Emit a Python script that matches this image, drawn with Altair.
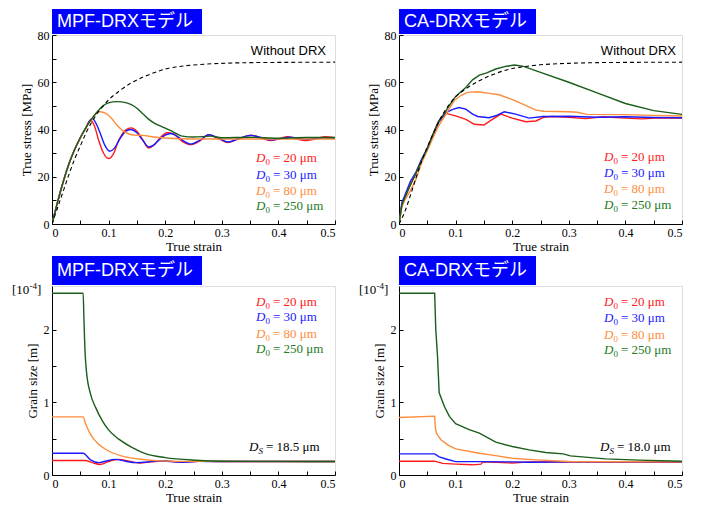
import altair as alt
import pandas as pd

# ---------------- data ----------------
SERIES = ["20", "30", "80", "250"]
LINE_COLORS = ["#ff1a1a", "#1a1aff", "#ff8c3c", "#1a5e1a"]
TEXT_COLORS = ["#ff1a1a", "#1a1aff", "#ff8c3c", "#237a23"]

# Without DRX (dashed)
MPF_DASH_X = [0, 0.01, 0.02, 0.03, 0.04, 0.05, 0.06, 0.07, 0.08, 0.09, 0.10, 0.12, 0.14, 0.16, 0.18, 0.20, 0.22, 0.25, 0.30, 0.35, 0.40, 0.50]
MPF_DASH_Y = [0, 7, 14, 21, 27.5, 33, 38.5, 43, 46.8, 49.8, 52.5, 56.5, 59.7, 62.1, 64.0, 65.6, 66.5, 67.3, 68.0, 68.3, 68.4, 68.5]
CA_DASH_X = [0, 0.01, 0.02, 0.03, 0.04, 0.05, 0.06, 0.07, 0.08, 0.09, 0.10, 0.12, 0.14, 0.16, 0.18, 0.20, 0.22, 0.25, 0.30, 0.35, 0.40, 0.50]
CA_DASH_Y = [0, 5, 12, 19.5, 26.5, 32.5, 38, 43.2, 47.5, 51, 53.8, 57.5, 60.4, 62.7, 64.5, 65.8, 66.6, 67.4, 68.0, 68.3, 68.4, 68.5]

# MPF-DRX stress
MPF_S20_X = [0, 0.01, 0.02, 0.03, 0.04, 0.05, 0.06, 0.068, 0.075, 0.083, 0.09, 0.1, 0.108, 0.118, 0.13, 0.14, 0.15, 0.16, 0.171, 0.18, 0.19, 0.204, 0.215, 0.23, 0.245, 0.26, 0.277, 0.295, 0.311, 0.33, 0.351, 0.37, 0.386, 0.4, 0.416, 0.43, 0.448, 0.465, 0.483, 0.5]
MPF_S20_Y = [0, 9.5, 18, 25.5, 31.5, 36.5, 40.8, 44, 41.5, 35, 30.5, 27.7, 29.5, 35.5, 39.8, 40.7, 39.3, 35.8, 32.2, 33.3, 36.2, 38.6, 38, 35, 33.6, 35, 37.7, 36, 34.5, 36, 37.6, 36.5, 35.3, 36, 37, 36.2, 35.3, 36, 37, 36.5]
MPF_S30_X = [0, 0.01, 0.02, 0.03, 0.04, 0.05, 0.06, 0.065, 0.071, 0.078, 0.085, 0.093, 0.102, 0.11, 0.12, 0.13, 0.139, 0.15, 0.16, 0.171, 0.18, 0.19, 0.2, 0.21, 0.222, 0.235, 0.245, 0.26, 0.277, 0.295, 0.311, 0.33, 0.351, 0.37, 0.386, 0.4, 0.42, 0.45, 0.48, 0.5]
MPF_S30_Y = [0, 9.5, 18, 25.5, 31.5, 36.5, 40.8, 43, 44.7, 42.5, 38.5, 33.5, 30.8, 32, 36, 39.2, 40, 38.6, 35.5, 32.6, 33.5, 35.8, 37.6, 38.3, 37, 34.8, 33.8, 35.3, 37.8, 36.3, 34.7, 36.2, 37.5, 36.6, 35.6, 35.9, 36.7, 35.8, 36.5, 36.3]
MPF_S80_X = [0, 0.01, 0.02, 0.03, 0.04, 0.05, 0.06, 0.07, 0.078, 0.085, 0.095, 0.105, 0.115, 0.125, 0.135, 0.145, 0.16, 0.18, 0.2, 0.25, 0.3, 0.4, 0.5]
MPF_S80_Y = [0, 9.5, 18, 25.5, 31.5, 36.5, 40.8, 44.3, 46.8, 47.5, 46.8, 44.8, 41.8, 39.5, 38.2, 37.6, 37.5, 36.8, 36.4, 36, 36, 36, 36]
MPF_S250_X = [0, 0.01, 0.02, 0.03, 0.04, 0.05, 0.06, 0.07, 0.08, 0.09, 0.1, 0.115, 0.13, 0.14, 0.15, 0.16, 0.17, 0.18, 0.19, 0.2, 0.21, 0.22, 0.23, 0.25, 0.28, 0.3, 0.35, 0.4, 0.45, 0.5]
MPF_S250_Y = [0, 9.5, 18, 25.5, 31.5, 36.5, 40.8, 44.5, 47.5, 50, 51.3, 51.8, 51.4, 50.5, 49, 46.8, 44.5, 42.8, 41.6, 40.6, 39.5, 38.2, 37.2, 36.8, 37.2, 36.5, 36.7, 36.3, 36.6, 36.6]

# CA-DRX stress
CA_S20_X = [0, 0.005, 0.01, 0.02, 0.03, 0.04, 0.05, 0.06, 0.07, 0.083, 0.1, 0.118, 0.133, 0.15, 0.165, 0.18, 0.2, 0.224, 0.242, 0.256, 0.27, 0.3, 0.33, 0.36, 0.4, 0.43, 0.46, 0.5]
CA_S20_Y = [0, 8, 11, 16.5, 21.5, 27, 32, 38, 43.5, 46.8, 45.8, 44.3, 42.2, 41.9, 44.3, 46.5, 44.8, 43.3, 43.6, 45.2, 45.5, 45.2, 44.6, 45.4, 44.8, 44.5, 45, 44.8]
CA_S30_X = [0, 0.005, 0.01, 0.02, 0.03, 0.04, 0.05, 0.06, 0.07, 0.083, 0.095, 0.106, 0.118, 0.13, 0.139, 0.159, 0.171, 0.186, 0.206, 0.23, 0.254, 0.3, 0.35, 0.4, 0.45, 0.5]
CA_S30_Y = [0, 9, 12, 18, 22, 27.5, 32, 37.5, 43, 47.2, 48.5, 49.3, 48.6, 46.5, 45.5, 45, 45.8, 47.5, 46.5, 44.8, 45.5, 45.6, 45.2, 45.4, 45.1, 45]
CA_S80_X = [0, 0.005, 0.01, 0.02, 0.03, 0.04, 0.05, 0.06, 0.07, 0.083, 0.098, 0.11, 0.121, 0.139, 0.16, 0.177, 0.206, 0.242, 0.256, 0.3, 0.315, 0.332, 0.4, 0.45, 0.5]
CA_S80_Y = [0, 7, 10, 14, 19, 26, 31, 36.5, 41.5, 46.5, 52.4, 54.5, 55.7, 56, 55.3, 54.7, 52.1, 48.2, 47.7, 47.5, 47.3, 46.4, 46.3, 46, 45.7]
CA_S250_X = [0, 0.005, 0.01, 0.02, 0.03, 0.04, 0.05, 0.06, 0.07, 0.08, 0.09, 0.1, 0.118, 0.13, 0.142, 0.155, 0.171, 0.19, 0.204, 0.22, 0.25, 0.3, 0.35, 0.4, 0.45, 0.5]
CA_S250_Y = [0, 8, 11, 16.5, 21.5, 27, 32, 38, 43.5, 46.8, 50.5, 54, 57.8, 61, 63, 64, 65.6, 66.8, 67.3, 66.7, 64.2, 60, 55.5, 51, 48, 46.4]

# MPF-DRX grain size [1e-4 m]
MPF_G20_X = [0, 0.058, 0.071, 0.085, 0.098, 0.118, 0.136, 0.154, 0.175, 0.2, 0.225, 0.26, 0.3, 0.5]
MPF_G20_Y = [0.2, 0.2, 0.17, 0.145, 0.18, 0.215, 0.19, 0.165, 0.18, 0.195, 0.175, 0.19, 0.185, 0.185]
MPF_G30_X = [0, 0.055, 0.068, 0.083, 0.092, 0.112, 0.13, 0.148, 0.171, 0.19, 0.21, 0.23, 0.26, 0.3, 0.5]
MPF_G30_Y = [0.3, 0.3, 0.207, 0.17, 0.185, 0.215, 0.19, 0.17, 0.18, 0.195, 0.185, 0.175, 0.188, 0.185, 0.185]
MPF_G80_X = [0, 0.055, 0.0595, 0.068, 0.083, 0.1, 0.124, 0.154, 0.19, 0.25, 0.5]
MPF_G80_Y = [0.8, 0.8, 0.70, 0.56, 0.42, 0.33, 0.26, 0.22, 0.195, 0.187, 0.185]
MPF_G250_X = [0, 0.055, 0.0565, 0.058, 0.0607, 0.068, 0.077, 0.089, 0.1, 0.118, 0.142, 0.165, 0.2, 0.254, 0.3, 0.4, 0.5]
MPF_G250_Y = [2.5, 2.5, 2.13, 1.76, 1.44, 1.115, 0.93, 0.746, 0.62, 0.493, 0.377, 0.294, 0.239, 0.203, 0.19, 0.187, 0.185]

# CA-DRX grain size [1e-4 m]
CA_G20_X = [0, 0.063, 0.077, 0.1, 0.13, 0.145, 0.148, 0.171, 0.2, 0.23, 0.5]
CA_G20_Y = [0.19, 0.19, 0.16, 0.15, 0.14, 0.15, 0.18, 0.175, 0.165, 0.18, 0.175]
CA_G30_X = [0, 0.063, 0.071, 0.083, 0.1, 0.142, 0.2, 0.23, 0.3, 0.5]
CA_G30_Y = [0.29, 0.29, 0.25, 0.22, 0.184, 0.184, 0.18, 0.175, 0.18, 0.18]
CA_G80_X = [0, 0.063, 0.064, 0.066, 0.074, 0.086, 0.1, 0.142, 0.171, 0.2, 0.242, 0.3, 0.5]
CA_G80_Y = [0.79, 0.81, 0.67, 0.577, 0.485, 0.415, 0.36, 0.30, 0.267, 0.23, 0.208, 0.185, 0.18]
CA_G250_X = [0, 0.063, 0.065, 0.068, 0.071, 0.08, 0.089, 0.1, 0.124, 0.142, 0.171, 0.2, 0.23, 0.259, 0.29, 0.303, 0.365, 0.424, 0.5]
CA_G250_Y = [2.5, 2.5, 2.0, 1.64, 1.13, 0.946, 0.807, 0.706, 0.623, 0.577, 0.452, 0.392, 0.346, 0.309, 0.29, 0.263, 0.222, 0.204, 0.19]

X_LABEL_TICKS = [0, 0.1, 0.2, 0.3, 0.4, 0.5]
X_ALL_TICKS = [0, 0.05, 0.1, 0.15, 0.2, 0.25, 0.3, 0.35, 0.4, 0.45, 0.5]
STRESS_LABEL_TICKS = [0, 20, 40, 60, 80]
STRESS_ALL_TICKS = [0, 10, 20, 30, 40, 50, 60, 70, 80]
GRAIN_LABEL_TICKS = [0, 1, 2]
GRAIN_ALL_TICKS = [0, 0.5, 1, 1.5, 2, 2.5]

# ---------------- helpers ----------------
W, H = 283, 189
SERIF = "Liberation Serif"
SANS = "Liberation Sans"
JP = "Liberation Sans, Noto Sans CJK JP, sans-serif"


def long_df(pairs):
    rows = []
    for name, xs, ys in pairs:
        for i, (x, y) in enumerate(zip(xs, ys)):
            rows.append({"strain": x, "val": y, "series": name, "i": i})
    return pd.DataFrame(rows)


def txt(s, x, y, **kw):
    return alt.Chart(pd.DataFrame({"t": [s]})).mark_text(**kw).encode(
        x=alt.value(x), y=alt.value(y), text="t:N")


def legend_layers(x0, ys, sizes, colors):
    out = []
    for s, c, y in zip(sizes, colors, ys):
        out.append(txt("D", x0, y, font=SERIF, fontSize=13, fontStyle="italic", color=c, align="left", baseline="middle"))
        out.append(txt("0", x0 + 9.5, y + 4, font=SERIF, fontSize=9, color=c, align="left", baseline="middle"))
        out.append(txt(f"= {s} μm", x0 + 17, y, font=SERIF, fontSize=13, color=c, align="left", baseline="middle"))
    return out


def panel(title, box_w, box_top, pairs, dash, ymax, ytitle, ylab, yall, interp, extra):
    xs = alt.Scale(domain=[0, 0.5], nice=False, zero=False)
    ys = alt.Scale(domain=[0, ymax], nice=False, zero=False)
    df = long_df(pairs)
    xaxis = alt.Axis(values=X_LABEL_TICKS, format="~g", ticks=False, grid=False, domainColor="black",
                     domainWidth=1, labelFont=SERIF, labelFontSize=12, labelColor="black", labelPadding=3,
                     title="True strain", titleFont=SERIF, titleFontSize=13, titleFontWeight="normal",
                     titleColor="black", titlePadding=2)
    yaxis = alt.Axis(values=ylab, format="d", ticks=False, grid=False, domainColor="black",
                     domainWidth=1, labelFont=SERIF, labelFontSize=12, labelColor="black", labelPadding=3,
                     title=ytitle, titleFont=SERIF, titleFontSize=13, titleFontWeight="normal",
                     titleColor="black", titlePadding=4)
    lines = alt.Chart(df).mark_line(strokeWidth=1.4, interpolate=interp, clip=True).encode(
        x=alt.X("strain:Q", scale=xs, axis=xaxis),
        y=alt.Y("val:Q", scale=ys, axis=yaxis),
        color=alt.Color("series:N", scale=alt.Scale(domain=SERIES, range=LINE_COLORS), legend=None),
        order="i:Q",
    )
    ticks = alt.Chart(df).mark_line(opacity=0).encode(
        x=alt.X("strain:Q", scale=xs, axis=alt.Axis(orient="top", offset=-H, values=X_ALL_TICKS, labels=False,
                                                    domain=False, grid=False, tickSize=4, tickColor="black", title=None)),
        y=alt.Y("val:Q", scale=ys, axis=alt.Axis(orient="right", offset=-W, values=yall, labels=False,
                                                 domain=False, grid=False, tickSize=4, tickColor="black", title=None)),
        detail="series:N",
    )
    layers = [ticks, lines]
    if dash is not None:
        ddf = pd.DataFrame({"strain": dash[0], "val": dash[1]})
        layers.append(alt.Chart(ddf).mark_line(color="black", strokeWidth=1.1, strokeDash=[4, 3],
                                               interpolate="monotone", clip=True).encode(
            x=alt.X("strain:Q", scale=xs, axis=None), y=alt.Y("val:Q", scale=ys, axis=None)))
    box = alt.Chart(pd.DataFrame({"a": [0]})).mark_rect(color="#0000ff").encode(
        x=alt.value(0), x2=alt.value(box_w), y=alt.value(box_top), y2=alt.value(-1))
    boxtext = txt(title, 5, (box_top - 1) / 2 + 0.5, font=JP, fontSize=18, color="white", align="left", baseline="middle")
    layers += [box, boxtext] + extra
    return alt.layer(*layers).resolve_axis(x="independent", y="independent").properties(width=W, height=H)


# top-left
p1 = panel("MPF-DRXモデル", 150, -26,
           [(s, x, y) for s, x, y in zip(SERIES, [MPF_S20_X, MPF_S30_X, MPF_S80_X, MPF_S250_X],
                                          [MPF_S20_Y, MPF_S30_Y, MPF_S80_Y, MPF_S250_Y])],
           (MPF_DASH_X, MPF_DASH_Y), 80, "True stress [MPa]", STRESS_LABEL_TICKS, STRESS_ALL_TICKS, "monotone",
           [txt("Without DRX", 274, 16, font=SANS, fontSize=13, color="black", align="right", baseline="middle")]
           + legend_layers(204, [123, 139.5, 155.5, 171], SERIES, TEXT_COLORS))
# top-right
p2 = panel("CA-DRXモデル", 137, -26,
           [(s, x, y) for s, x, y in zip(SERIES, [CA_S20_X, CA_S30_X, CA_S80_X, CA_S250_X],
                                          [CA_S20_Y, CA_S30_Y, CA_S80_Y, CA_S250_Y])],
           (CA_DASH_X, CA_DASH_Y), 80, "True stress [MPa]", STRESS_LABEL_TICKS, STRESS_ALL_TICKS, "linear",
           [txt("Without DRX", 277, 16, font=SANS, fontSize=13, color="black", align="right", baseline="middle")]
           + legend_layers(205, [122, 138, 154, 170], SERIES, TEXT_COLORS))


def grain_extra(ds, x0):
    return [
        txt("[10", -40, 4, font=SERIF, fontSize=13, color="black", align="left", baseline="middle"),
        txt("-4", -22.5, 0, font=SERIF, fontSize=9, color="black", align="left", baseline="middle"),
        txt("]", -15, 4, font=SERIF, fontSize=13, color="black", align="left", baseline="middle"),
        txt("D", x0, 161, font=SERIF, fontSize=13, fontStyle="italic", color="black", align="left", baseline="middle"),
        txt("S", x0 + 9.5, 165, font=SERIF, fontSize=9, fontStyle="italic", color="black", align="left", baseline="middle"),
        txt(f"= {ds} μm", x0 + 17, 161, font=SERIF, fontSize=13, color="black", align="left", baseline="middle"),
    ]


p3 = panel("MPF-DRXモデル", 150, -30,
           [(s, x, y) for s, x, y in zip(SERIES, [MPF_G20_X, MPF_G30_X, MPF_G80_X, MPF_G250_X],
                                          [MPF_G20_Y, MPF_G30_Y, MPF_G80_Y, MPF_G250_Y])],
           None, 2.6, "Grain size [m]", GRAIN_LABEL_TICKS, GRAIN_ALL_TICKS, "monotone",
           grain_extra("18.5", 197) + legend_layers(204, [15.5, 31, 47.5, 63], SERIES, TEXT_COLORS))
p4 = panel("CA-DRXモデル", 137, -30,
           [(s, x, y) for s, x, y in zip(SERIES, [CA_G20_X, CA_G30_X, CA_G80_X, CA_G250_X],
                                          [CA_G20_Y, CA_G30_Y, CA_G80_Y, CA_G250_Y])],
           None, 2.6, "Grain size [m]", GRAIN_LABEL_TICKS, GRAIN_ALL_TICKS, "linear",
           grain_extra("18.0", 201) + legend_layers(205, [16, 32, 48.5, 64], SERIES, TEXT_COLORS))

chart = alt.concat(p1, p2, p3, p4, columns=2, spacing=alt.RowColnumber(row=62, column=64), bounds="flush",
                   padding={"left": 3, "top": 0, "right": 5, "bottom": 0}).configure_view(
    stroke="#888888", strokeWidth=1.5).configure(background="white")

chart.save("out.html", embed_options={"renderer": "svg", "actions": False})
